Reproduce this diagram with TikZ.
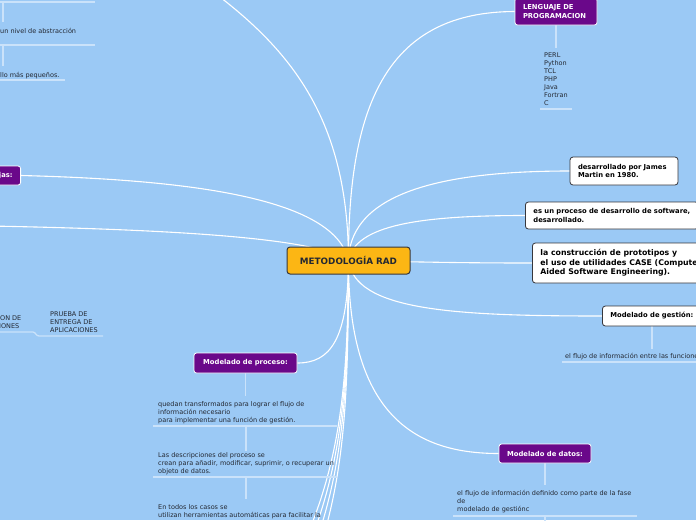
\documentclass[tikz,border=0pt]{standalone}
\usepackage{fontspec}
\setmainfont{DejaVu Sans}
\definecolor{bg}{RGB}{155,201,245}
\definecolor{purp}{RGB}{106,8,138}
\definecolor{orng}{RGB}{252,182,20}
\definecolor{txt}{RGB}{35,40,50}
\definecolor{subc}{RGB}{202,226,250}
\definecolor{boxb}{RGB}{55,55,60}
\pgfdeclarelayer{bgl}
\pgfdeclarelayer{background}
\pgfsetlayers{bgl,background,main}
\begin{document}
\begin{tikzpicture}[x=1pt,y=-1pt,
  conn/.style={draw=white, line width=1.1pt},
  sub/.style={draw=subc, line width=1.3pt},
  small/.style={font=\fontsize{6.5}{8}\selectfont, text=txt, align=left, inner sep=0pt, anchor=north west},
  purpbox/.style={draw=white, line width=0.8pt, fill=purp, rounded corners=2.5pt, text=white,
    font=\fontsize{6.8}{8.6}\selectfont\bfseries, inner sep=0pt},
  wbox/.style={draw=boxb, line width=0.8pt, fill=white, rounded corners=3pt, text=black,
    font=\fontsize{6.8}{8.6}\selectfont\bfseries, inner ysep=0pt, inner xsep=8pt, align=left},
  central/.style={draw=boxb, line width=1pt, fill=orng, rounded corners=3pt, text=txt,
    font=\fontsize{8.8}{10}\selectfont\bfseries, inner sep=0pt, minimum width=123pt, minimum height=27pt}
]
\begin{pgfonlayer}{bgl}
\fill[bg] (0,0) rectangle (696,520);
\end{pgfonlayer}
\useasboundingbox (0,0) rectangle (696,520);
\clip (0,0) rectangle (696,520);

% central
\node[central] (c) at (348.5,260.5) {METODOLOGÍA RAD};

% right side boxes
\node[purpbox, minimum width=82pt, minimum height=27pt, text width=66pt, inner xsep=8pt, align=left] (lp) at (556,11.5) {LENGUAJE DE\\PROGRAMACION};
\node[wbox, minimum width=108pt, minimum height=28pt, text width=92pt] (jm) at (624,171) {desarrollado por James\\Martin en 1980.};
\node[wbox, anchor=west, minimum height=27pt] (esp) at (525,215.5) {es un proceso de desarrollo de software,\\desarrollado.};
\node[wbox, anchor=west, minimum height=40pt, font=\fontsize{7.8}{9.6}\selectfont\bfseries] (cp) at (532,263) {la construcción de prototipos y\\el uso de utilidades CASE (Computer\\Aided Software Engineering).};
\node[wbox, anchor=west, minimum height=20pt] (mg) at (602,316) {Modelado de gestión:};
\node[purpbox, minimum width=92pt, minimum height=19pt] (md) at (545,453.5) {Modelado de datos:};
\node[purpbox, minimum width=103pt, minimum height=20pt] (mp) at (245.5,363) {Modelado de proceso:};
\node[purpbox, anchor=east, minimum height=19pt, inner xsep=8pt] (vj) at (21,175.5) {Ventajas:};

% texts
\node[small] (t1) at (0,28) {un nivel de abstracción};
\node[small] (t2) at (0,72) {llo más pequeños.};
\node[small] (pl) at (544,53) {PERL\\Python\\TCL\\PHP\\Java\\Fortran\\C};
\node[small] (gf) at (565,353) {el flujo de información entre las funciones};
\node[small] (dt) at (457,490) {el flujo de información definido como parte de la fase\\de\\modelado de gestiónc};
\node[small] (q1) at (158,401) {quedan transformados para lograr el flujo de\\información necesario\\para implementar una función de gestión.};
\node[small] (q2) at (158,452) {Las descripciones del proceso se\\crean para añadir, modificar, suprimir, o recuperar un\\objeto de datos.};
\node[small] (q3) at (158,504) {En todos los casos se\\utilizan herramientas automáticas para facilitar la};
\node[small] (on) at (-1,315.5) {\hspace*{1pt}ON DE\\IONES};
\node[small] (pr) at (50,311.5) {PRUEBA DE\\ENTREGA DE\\APLICACIONES};

\coordinate (offtl) at (208,-12);
\coordinate (offl) at (-10,226);
\coordinate (b1) at (303,545);
\coordinate (b2) at (309,545);
\coordinate (b3) at (315,545);
\coordinate (b4) at (321,545);

\begin{pgfonlayer}{background}
% main connectors
\draw[conn] (c.center) .. controls (348,120) and (292,50) .. (offtl);
\draw[conn] (vj.east) .. controls (200,180) and (335,200) .. (c.center);
\draw[conn] (offl) .. controls (200,230) and (320,240) .. (c.center);
\draw[conn] (c.center) .. controls (348,100) and (390,12) .. (lp.west);
\draw[conn] (c.center) .. controls (350,190) and (450,171) .. (jm.west);
\draw[conn] (c.center) .. controls (355,225) and (420,215.5) .. (esp.west);
\draw[conn] (c.center) .. controls (420,262) and (460,263) .. (cp.west);
\draw[conn] (c.center) .. controls (355,310) and (450,316) .. (mg.west);
\draw[conn] (c.center) .. controls (348,420) and (420,453.5) .. (md.west);
\draw[conn] (c.center) .. controls (348,340) and (330,363) .. (mp.east);
\draw[conn] (c.center) .. controls (348,380) and (341,460) .. (b1);
\draw[conn] (c.center) .. controls (348,380) and (343,460) .. (b2);
\draw[conn] (c.center) .. controls (348,380) and (345,460) .. (b3);
\draw[conn] (c.center) .. controls (348,380) and (347,460) .. (b4);

% sub lines (top-left)
\draw[sub] (0,2) -- (95,2);
\draw[sub] (3,2) -- (3,22);
\draw[sub] (0,45) -- (95,45);
\draw[sub] (3,45) -- (3,66);
\draw[sub] (0,80) -- (65,80);
% lenguaje
\draw[sub] (lp.south) -- ++(0,23);
\draw[sub] (540,109) -- (572,109);
% gestion
\draw[sub] (mg.south -| 652,0) -- (652,349);
\draw[sub] (562,362) -- (700,362);
% datos
\draw[sub] (md.south) -- ++(0,22);
\draw[sub] (453,516) -- (637,516);
\draw[sub] (545,516) -- (545,530);
% proceso
\draw[sub] (mp.south) -- ++(0,23);
\draw[sub] (153,426) -- (337,426);
\draw[sub] (246,426) -- (246,451);
\draw[sub] (153,477) -- (337,477);
\draw[sub] (246,477) -- (246,499);
% on de / prueba
\draw[sub] (0,332) -- (33,332) .. controls (35.5,332) and (36,336) .. (39,336) -- (103,336);
\end{pgfonlayer}
\end{tikzpicture}
\end{document}
